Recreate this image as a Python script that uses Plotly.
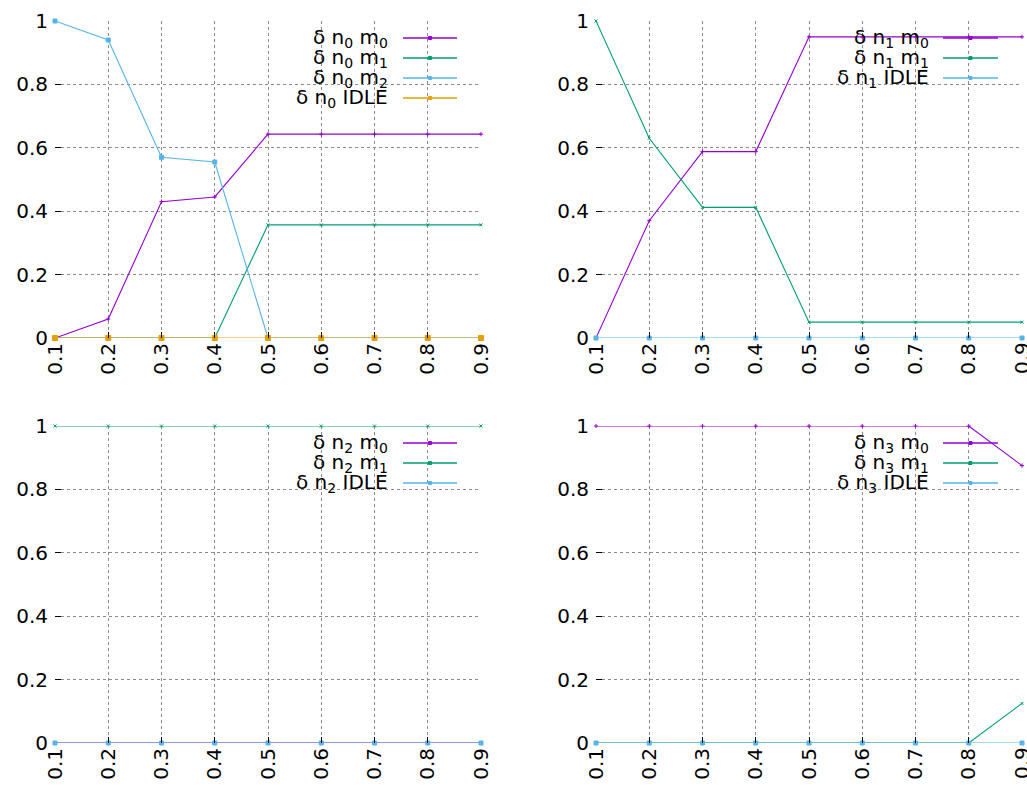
import plotly.graph_objects as go

x = [0.1, 0.2, 0.3, 0.4, 0.5, 0.6, 0.7, 0.8, 0.9]
x_ticks = ["0.1", "0.2", "0.3", "0.4", "0.5", "0.6", "0.7", "0.8", "0.9"]
y_ticks = [0, 0.2, 0.4, 0.6, 0.8, 1]
y_tick_labels = ["0", "0.2", "0.4", "0.6", "0.8", "1"]

# node 0
n0_m0 = [0.0, 0.06, 0.43, 0.445, 0.643, 0.643, 0.643, 0.643, 0.643]
n0_m1 = [0.0, 0.0, 0.0, 0.0, 0.357, 0.357, 0.357, 0.357, 0.357]
n0_m2 = [1.0, 0.94, 0.57, 0.555, 0.0, 0.0, 0.0, 0.0, 0.0]
n0_idle = [0, 0, 0, 0, 0, 0, 0, 0, 0]
# node 1
n1_m0 = [0.0, 0.37, 0.588, 0.588, 0.95, 0.95, 0.95, 0.95, 0.95]
n1_m1 = [1.0, 0.63, 0.412, 0.412, 0.05, 0.05, 0.05, 0.05, 0.05]
n1_idle = [0, 0, 0, 0, 0, 0, 0, 0, 0]
# node 2
n2_m0 = [0, 0, 0, 0, 0, 0, 0, 0, 0]
n2_m1 = [1, 1, 1, 1, 1, 1, 1, 1, 1]
n2_idle = [0, 0, 0, 0, 0, 0, 0, 0, 0]
# node 3
n3_m0 = [1, 1, 1, 1, 1, 1, 1, 1, 0.875]
n3_m1 = [0, 0, 0, 0, 0, 0, 0, 0, 0.125]
n3_idle = [0, 0, 0, 0, 0, 0, 0, 0, 0]

PURPLE = "#9400d3"
GREEN = "#009e73"
BLUE = "#56b4e9"
ORANGE = "#e69f00"

styles = {
    "m0": (PURPLE, "cross-thin", 3),
    "m1": (GREEN, "x-thin", 3),
    "m2": (BLUE, "square", 4),
    "IDLE_o": (ORANGE, "square", 5),
    "IDLE_b": (BLUE, "square", 4),
}

panels = [
    ("0", [("m<sub>0</sub>", n0_m0, "m0"), ("m<sub>1</sub>", n0_m1, "m1"),
           ("m<sub>2</sub>", n0_m2, "m2"), ("IDLE", n0_idle, "IDLE_o")]),
    ("1", [("m<sub>0</sub>", n1_m0, "m0"), ("m<sub>1</sub>", n1_m1, "m1"),
           ("IDLE", n1_idle, "IDLE_b")]),
    ("2", [("m<sub>0</sub>", n2_m0, "m0"), ("m<sub>1</sub>", n2_m1, "m1"),
           ("IDLE", n2_idle, "IDLE_b")]),
    ("3", [("m<sub>0</sub>", n3_m0, "m0"), ("m<sub>1</sub>", n3_m1, "m1"),
           ("IDLE", n3_idle, "IDLE_b")]),
]

W, H = 1027, 787
# plot areas in screen pixels (left, right, top, bottom)
areas = [(55, 481, 21, 338), (596, 1022, 21, 338),
         (55, 481, 426, 743), (596, 1022, 426, 743)]


def px(v):
    return v / W


def py(v):
    return 1 - v / H


fig = go.Figure()
FONT = "DejaVu Sans"
FS = 20
shapes = []
annotations = []

for i, ((node, series), (l, r, t, b)) in enumerate(zip(panels, areas)):
    k = "" if i == 0 else str(i + 1)
    xa, ya = "x" + k, "y" + k
    for label, vals, st in series:
        col, sym, ms = styles[st]
        fig.add_trace(go.Scatter(
            x=x, y=vals, xaxis=xa, yaxis=ya, mode="lines+markers",
            line=dict(color=col, width=1.1),
            marker=dict(color=col, symbol=sym, size=ms,
                        line=dict(color=col, width=1)),
            showlegend=False, cliponaxis=False))
    common = dict(showgrid=True, gridcolor="#8a8a8a", griddash="dot", gridwidth=1,
                  zeroline=False, showline=False, ticks="inside", ticklen=6,
                  tickcolor="black", tickwidth=1, automargin=False,
                  tickfont=dict(family=FONT, size=FS, color="black"))
    right_panel = (i % 2 == 1)
    ttext = list(x_ticks)
    if right_panel:
        # last label sits on the page edge; Plotly would drop it, so draw it
        # as an annotation at the same data position (it gets clipped like
        # in the reference)
        ttext[-1] = ""
        annotations.append(dict(
            xref=xa, x=x[-1], yref="paper", y=py(b + 20),
            xanchor="center", yanchor="middle", showarrow=False,
            textangle=-90, text=x_ticks[-1],
            font=dict(family=FONT, size=FS, color="black")))
    fig.update_layout(**{
        "xaxis" + k: dict(domain=[px(l), px(r)], range=[0.1, 0.9],
                          tickvals=x, ticktext=ttext, tickangle=-90,
                          anchor=ya, **common),
        "yaxis" + k: dict(domain=[py(b), py(t)], range=[0, 1],
                          tickvals=y_ticks, ticktext=y_tick_labels,
                          anchor=xa, ticklabelstandoff=6, **common),
    })
    # legend (gnuplot style: text right-aligned, sample on the right)
    if not right_panel:
        tx, sx0, sx1 = 390, 403, 457
    else:
        tx, sx0, sx1 = 931, 943, 998
    y0 = 38 if i < 2 else 443
    for j, (label, vals, st) in enumerate(series):
        col, sym, ms = styles[st]
        yy = y0 + 20 * j
        annotations.append(dict(
            xref="paper", yref="paper", x=px(tx), y=py(yy),
            xanchor="right", yanchor="middle", showarrow=False,
            text=f"δ n<sub>{node}</sub> {label}",
            font=dict(family=FONT, size=FS, color="black")))
        shapes.append(dict(type="line", xref="paper", yref="paper",
                           x0=px(sx0), x1=px(sx1), y0=py(yy), y1=py(yy),
                           line=dict(color=col, width=1.5)))
        cx = (sx0 + sx1) / 2
        shapes.append(dict(type="rect", xref="paper", yref="paper",
                           x0=px(cx - 1.5), x1=px(cx + 1.5),
                           y0=py(yy + 1.5), y1=py(yy - 1.5),
                           line=dict(color=col, width=1), fillcolor=col))

fig.update_layout(width=W, height=H, margin=dict(l=0, r=0, t=0, b=0),
                  paper_bgcolor="white", plot_bgcolor="white",
                  shapes=shapes, annotations=annotations,
                  font=dict(family=FONT, size=FS, color="black"))

fig.write_html(
    "out.html",
    config={"displayModeBar": False},
    post_script="document.body.style.margin='0';"
                "document.body.style.overflow='hidden';"
                "document.documentElement.style.overflow='hidden';",
)
